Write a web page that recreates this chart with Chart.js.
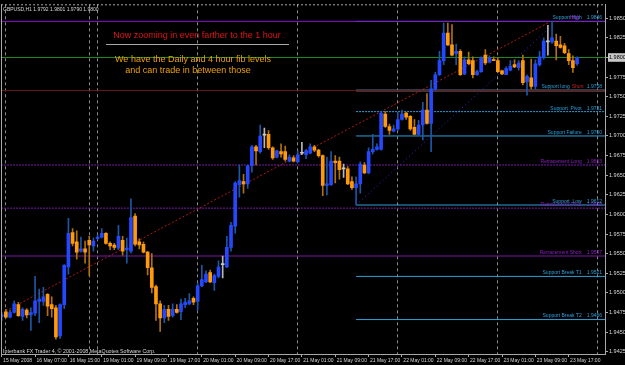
<!DOCTYPE html>
<html>
<head>
<meta charset="utf-8">
<title>GBPUSD,H1</title>
<script src="https://cdn.jsdelivr.net/npm/chart.js@4/dist/chart.umd.min.js"></script>
<style>
	html, body { margin: 0; padding: 0; background: #000; }
	canvas { display: block; }
</style>
</head>
<body>
<canvas id="grafico" width="625" height="365"></canvas>
<script>
	let simbolo = 'GBPUSD,H1';

	// etiquetas del eje de tiempo (una cada 8 barras) y separadores de dia
	let etiquetasHora = ['15 May 2008', '16 May 07:00', '16 May 15:00', '19 May 01:00', '19 May 09:00', '19 May 17:00',
		'20 May 01:00', '20 May 09:00', '20 May 17:00', '21 May 01:00', '21 May 09:00', '21 May 17:00',
		'22 May 01:00', '22 May 09:00', '22 May 17:00', '23 May 01:00', '23 May 09:00', '23 May 17:00'];
	let barrasEtiqueta = [0, 8, 16, 24, 32, 40, 48, 56, 64, 72, 80, 88, 96, 104, 112, 120, 128, 136];
	let separadores = [1, 21, 23, 47, 71, 95, 119, 143];

	let precios = [1.9425, 1.9450, 1.9475, 1.9500, 1.9525, 1.9550, 1.9575, 1.9600, 1.9625, 1.9650,
		1.9675, 1.9700, 1.9725, 1.9750, 1.9775, 1.9800, 1.9825, 1.9850];

	let aperturas = [1.9470, 1.9476, 1.9469, 1.9475, 1.9485, 1.9470, 1.9478, 1.9472, 1.9474, 1.9489,
		1.9489, 1.9498, 1.9485, 1.9481, 1.9445, 1.9485, 1.9533, 1.9577, 1.9565, 1.9553,
		1.9556, 1.9567, 1.9560, 1.9569, 1.9571, 1.9576, 1.9563, 1.9561, 1.9557, 1.9567,
		1.9555, 1.9553, 1.9598, 1.9565, 1.9562, 1.9552, 1.9532, 1.9508, 1.9486, 1.9468,
		1.9479, 1.9471, 1.9479, 1.9476, 1.9485, 1.9486, 1.9493, 1.9489, 1.9509, 1.9514,
		1.9526, 1.9513, 1.9521, 1.9536, 1.9533, 1.9558, 1.9585, 1.9638, 1.9642, 1.9639,
		1.9662, 1.9686, 1.9680, 1.9701, 1.9702, 1.9685, 1.9673, 1.9680, 1.9680, 1.9668,
		1.9672, 1.9667, 1.9678, 1.9676, 1.9678, 1.9686, 1.9682, 1.9675, 1.9637, 1.9638,
		1.9668, 1.9668, 1.9658, 1.9658, 1.9642, 1.9634, 1.9639, 1.9663, 1.9653, 1.9680,
		1.9683, 1.9683, 1.9728, 1.9712, 1.9706, 1.9709, 1.9721, 1.9729, 1.9725, 1.9711,
		1.9702, 1.9714, 1.9733, 1.9716, 1.9760, 1.9778, 1.9796, 1.9831, 1.9816, 1.9805,
		1.9808, 1.9779, 1.9797, 1.9796, 1.9778, 1.9782, 1.9803, 1.9794, 1.9797, 1.9796,
		1.9783, 1.9778, 1.9784, 1.9791, 1.9787, 1.9796, 1.9769, 1.9774, 1.9763, 1.9791,
		1.9800, 1.9820, 1.9820, 1.9821, 1.9816, 1.9815, 1.9805, 1.9796, 1.9792];

	let maximos = [1.9475, 1.9479, 1.9478, 1.9490, 1.9488, 1.9481, 1.9480, 1.9481, 1.9521, 1.9505,
		1.9507, 1.9499, 1.9495, 1.9484, 1.9486, 1.9536, 1.9595, 1.9582, 1.9579, 1.9571,
		1.9566, 1.9572, 1.9570, 1.9574, 1.9582, 1.9577, 1.9565, 1.9563, 1.9586, 1.9572,
		1.9570, 1.9620, 1.9601, 1.9569, 1.9565, 1.9553, 1.9550, 1.9510, 1.9490, 1.9484,
		1.9484, 1.9486, 1.9485, 1.9492, 1.9493, 1.9499, 1.9495, 1.9512, 1.9535, 1.9528,
		1.9529, 1.9524, 1.9541, 1.9547, 1.9572, 1.9590, 1.9642, 1.9663, 1.9651, 1.9663,
		1.9688, 1.9688, 1.9714, 1.9710, 1.9707, 1.9686, 1.9682, 1.9690, 1.9687, 1.9676,
		1.9675, 1.9681, 1.9692, 1.9683, 1.9690, 1.9688, 1.9683, 1.9676, 1.9673, 1.9680,
		1.9675, 1.9673, 1.9664, 1.9661, 1.9648, 1.9648, 1.9667, 1.9666, 1.9685, 1.9702,
		1.9690, 1.9731, 1.9731, 1.9715, 1.9714, 1.9730, 1.9733, 1.9730, 1.9726, 1.9721,
		1.9720, 1.9743, 1.9754, 1.9771, 1.9781, 1.9808, 1.9844, 1.9844, 1.9842, 1.9817,
		1.9810, 1.9801, 1.9807, 1.9801, 1.9784, 1.9801, 1.9810, 1.9802, 1.9801, 1.9800,
		1.9784, 1.9788, 1.9796, 1.9797, 1.9796, 1.9803, 1.9778, 1.9798, 1.9797, 1.9808,
		1.9825, 1.9841, 1.9846, 1.9830, 1.9827, 1.9818, 1.9810, 1.9802, 1.9801];

	let minimos = [1.9465, 1.9468, 1.9468, 1.9474, 1.9470, 1.9465, 1.9468, 1.9452, 1.9471, 1.9462,
		1.9484, 1.9471, 1.9469, 1.9441, 1.9442, 1.9480, 1.9524, 1.9560, 1.9543, 1.9552,
		1.9538, 1.9522, 1.9553, 1.9568, 1.9570, 1.9562, 1.9555, 1.9555, 1.9555, 1.9548,
		1.9538, 1.9551, 1.9560, 1.9556, 1.9551, 1.9523, 1.9500, 1.9465, 1.9451, 1.9462,
		1.9465, 1.9469, 1.9474, 1.9466, 1.9481, 1.9485, 1.9485, 1.9478, 1.9508, 1.9513,
		1.9513, 1.9503, 1.9519, 1.9519, 1.9532, 1.9553, 1.9576, 1.9622, 1.9627, 1.9633,
		1.9654, 1.9663, 1.9678, 1.9685, 1.9683, 1.9670, 1.9672, 1.9673, 1.9668, 1.9667,
		1.9667, 1.9666, 1.9676, 1.9671, 1.9677, 1.9680, 1.9673, 1.9624, 1.9625, 1.9637,
		1.9640, 1.9645, 1.9647, 1.9638, 1.9632, 1.9612, 1.9627, 1.9652, 1.9652, 1.9677,
		1.9682, 1.9682, 1.9711, 1.9702, 1.9705, 1.9707, 1.9720, 1.9721, 1.9707, 1.9702,
		1.9701, 1.9695, 1.9715, 1.9680, 1.9758, 1.9777, 1.9791, 1.9815, 1.9802, 1.9791,
		1.9777, 1.9778, 1.9791, 1.9774, 1.9777, 1.9781, 1.9791, 1.9793, 1.9796, 1.9781,
		1.9778, 1.9778, 1.9783, 1.9787, 1.9784, 1.9765, 1.9752, 1.9760, 1.9760, 1.9789,
		1.9798, 1.9803, 1.9818, 1.9797, 1.9812, 1.9805, 1.9791, 1.9781, 1.9790];

	let cierres = [1.9472, 1.9469, 1.9475, 1.9486, 1.9471, 1.9479, 1.9472, 1.9475, 1.9490, 1.9492,
		1.9495, 1.9483, 1.9480, 1.9444, 1.9485, 1.9535, 1.9576, 1.9563, 1.9552, 1.9556,
		1.9552, 1.9561, 1.9566, 1.9571, 1.9576, 1.9563, 1.9560, 1.9558, 1.9572, 1.9553,
		1.9557, 1.9596, 1.9562, 1.9561, 1.9552, 1.9532, 1.9507, 1.9486, 1.9468, 1.9479,
		1.9470, 1.9479, 1.9475, 1.9486, 1.9488, 1.9490, 1.9488, 1.9509, 1.9517, 1.9524,
		1.9514, 1.9522, 1.9533, 1.9536, 1.9558, 1.9586, 1.9640, 1.9643, 1.9639, 1.9662,
		1.9686, 1.9681, 1.9700, 1.9701, 1.9685, 1.9672, 1.9681, 1.9677, 1.9670, 1.9673,
		1.9668, 1.9676, 1.9678, 1.9681, 1.9686, 1.9682, 1.9675, 1.9637, 1.9639, 1.9668,
		1.9666, 1.9657, 1.9658, 1.9639, 1.9634, 1.9639, 1.9664, 1.9653, 1.9680, 1.9683,
		1.9686, 1.9729, 1.9712, 1.9707, 1.9709, 1.9721, 1.9728, 1.9724, 1.9709, 1.9702,
		1.9714, 1.9733, 1.9716, 1.9760, 1.9778, 1.9796, 1.9831, 1.9816, 1.9803, 1.9808,
		1.9778, 1.9797, 1.9792, 1.9778, 1.9782, 1.9800, 1.9793, 1.9800, 1.9796, 1.9782,
		1.9779, 1.9786, 1.9789, 1.9788, 1.9793, 1.9768, 1.9776, 1.9763, 1.9792, 1.9801,
		1.9821, 1.9820, 1.9825, 1.9815, 1.9813, 1.9806, 1.9796, 1.9787, 1.9800];

	// niveles fib (soportes desde la barra 85, retrocesos en todo el ancho)
	let soportesNombre = ['Support High', 'Support long', 'Support  Pivot', 'Support Failure', 'Support  Low', 'Support Break T1', 'Support Break T2'];
	let soportesPrecio = [1.9846, 1.9758, 1.9731, 1.9700, 1.9612, 1.9521, 1.9466];
	let soportesDesde = 85;
	let retrocesosNombre = ['Retracement Long', 'Retracement Pivot', 'Retracement Short'];
	let retrocesosPrecio = [1.9663, 1.9608, 1.9547];
	let diarioNombre = ['High', 'Short'];
	let diarioPrecio = [1.9846, 1.9758];
	let precioBid = 1.9800;

	// lineas de tendencia: [barra, precio]
	let tendenciaRoja = [[1, 1.9477], [131, 1.9844]];
	let tendenciaAzul = [[85, 1.9612], [131, 1.9836]];

	let xMin = -0.17, xMax = 144.7;
	let fuente = '"Liberation Sans", Arial, sans-serif';

	let colorCuerpo = {up: '#2448ff', down: '#ff9a0c', doji: '#c8c8c8'};
	let colorMecha = {up: '#1d56a6', down: '#b0700e', doji: '#b8b8b8'};
	let colorSoporte = '#2e9fd8';
	let colorRetroceso = '#7a1aa6';

	function tipo(i){
		if (cierres[i] > aperturas[i]) return 'up';
		if (cierres[i] < aperturas[i]) return 'down';
		return 'doji';
	}

	function linea(x0, y0, x1, y1, color, dash, ancho){
		return {
			type: 'line',
			xAxisID: 'x',
			yAxisID: 'y',
			data: [{x: x0, y: y0}, {x: x1, y: y1}],
			borderColor: color,
			borderWidth: ancho || 1,
			borderDash: dash || [],
			pointRadius: 0,
			fill: false,
			order: 5
		};
	}

	let datasets = [];

	datasets.push({
		label: 'mechas',
		xAxisID: 'x',
		yAxisID: 'y',
		data: maximos.map((h, i) => ({x: i, y: [minimos[i], h]})),
		backgroundColor: maximos.map((h, i) => colorMecha[tipo(i)]),
		barThickness: 1,
		grouped: false,
		order: 2
	});
	datasets.push({
		label: 'cuerpos',
		xAxisID: 'x',
		yAxisID: 'y',
		data: aperturas.map((o, i) => ({x: i, y: [o, cierres[i]]})),
		backgroundColor: aperturas.map((o, i) => colorCuerpo[tipo(i)]),
		barThickness: 3,
		minBarLength: 1,
		grouped: false,
		order: 1
	});

	datasets.push(linea(xMin, diarioPrecio[0], xMax, diarioPrecio[0], '#8a12c4'));
	datasets.push(linea(xMin, diarioPrecio[1], xMax, diarioPrecio[1], '#6e1616'));
	datasets.push(linea(xMin, precioBid, xMax, precioBid, '#1f8c1f'));
	datasets.push(linea(xMin, retrocesosPrecio[0], xMax, retrocesosPrecio[0], colorRetroceso, [2, 1]));
	datasets.push(linea(xMin, retrocesosPrecio[1], xMax, retrocesosPrecio[1], colorRetroceso, [2, 1]));
	datasets.push(linea(xMin, retrocesosPrecio[2], xMax, retrocesosPrecio[2], colorRetroceso));

	soportesPrecio.forEach(function(p, i){
		if (i == 1) {
			datasets.push(linea(soportesDesde, p, xMax, p, '#5f7486', [], 2));
		} else if (i == 2) {
			datasets.push(linea(soportesDesde, p, xMax, p, colorSoporte, [2, 1]));
		} else {
			datasets.push(linea(soportesDesde, p, xMax, p, colorSoporte));
		}
	});

	datasets.push(linea(tendenciaRoja[0][0], tendenciaRoja[0][1], tendenciaRoja[1][0], tendenciaRoja[1][1], '#b01a1a', [2, 2]));
	datasets.push(linea(tendenciaAzul[0][0], tendenciaAzul[0][1], tendenciaAzul[1][0], tendenciaAzul[1][1], '#2a2ad8', [1, 3]));

	let textos = {
		id: 'textos',
		afterDatasetsDraw(chart){
			let ctx = chart.ctx;
			let area = chart.chartArea;
			let y = chart.scales.y;
			let n = cierres.length - 1;

			ctx.save();

			// marco izquierdo y superior
			ctx.strokeStyle = '#a8a8a8';
			ctx.lineWidth = 1;
			ctx.beginPath();
			ctx.moveTo(area.left + 0.5, area.top);
			ctx.lineTo(area.left + 0.5, area.bottom);
			ctx.stroke();
			ctx.setLineDash([2, 2]);
			ctx.beginPath();
			ctx.moveTo(area.left, area.top + 0.5);
			ctx.lineTo(area.right, area.top + 0.5);
			ctx.stroke();
			ctx.setLineDash([]);

			// etiquetas de niveles
			ctx.font = '5px ' + fuente;
			ctx.textBaseline = 'bottom';
			ctx.textAlign = 'right';
			let derecha = area.right - 3;

			function etiqueta(nombre, precio, color){
				let py = y.getPixelForValue(precio) - 1;
				let valor = precio.toFixed(4);
				ctx.fillStyle = color;
				ctx.fillText(valor, derecha, py);
				ctx.fillText(nombre, derecha - ctx.measureText(valor).width - 5, py);
			}

			retrocesosNombre.forEach((t, i) => etiqueta(t, retrocesosPrecio[i], '#8a22c0'));
			soportesNombre.forEach(function(t, i){
				if (i == 1) {
					let py = y.getPixelForValue(soportesPrecio[i]) - 1;
					let valor = soportesPrecio[i].toFixed(4);
					let wv = ctx.measureText(valor).width;
					ctx.fillStyle = colorSoporte;
					ctx.fillText(valor, derecha, py);
					ctx.fillStyle = '#c02020';
					ctx.fillText(diarioNombre[1], derecha - wv - 3, py);
					let ws = ctx.measureText(diarioNombre[1]).width;
					ctx.fillStyle = colorSoporte;
					ctx.fillText(t, derecha - wv - ws - 5, py);
				} else {
					etiqueta(t, soportesPrecio[i], colorSoporte);
				}
			});
			ctx.fillStyle = '#9a20d0';
			ctx.fillText(diarioNombre[0], derecha - 22, y.getPixelForValue(diarioPrecio[0]) - 1);

			// cabecera y pie
			ctx.textAlign = 'left';
			ctx.textBaseline = 'top';
			ctx.fillStyle = '#d8d8d8';
			ctx.font = '5px ' + fuente;
			ctx.fillText(simbolo + ' ' + aperturas[n].toFixed(4) + ' ' + maximos[n].toFixed(4) + ' ' +
				minimos[n].toFixed(4) + ' ' + cierres[n].toFixed(4), area.left + 2, area.top + 3);
			ctx.textBaseline = 'bottom';
			ctx.font = '5.3px ' + fuente;
			ctx.fillText('Interbank FX Trader 4, \u00a9 2001-2008 MetaQuotes Software Corp.', area.left + 2, area.bottom);

			// notas del grafico
			ctx.textAlign = 'center';
			ctx.textBaseline = 'alphabetic';
			ctx.font = '9px "Liberation Sans", Arial, sans-serif';
			ctx.fillStyle = '#e01414';
			ctx.fillText('Now zooming in even farther to the 1 hour', 197, 38);
			ctx.strokeStyle = '#a8a8a8';
			ctx.beginPath();
			ctx.moveTo(106, 44.5);
			ctx.lineTo(289, 44.5);
			ctx.stroke();
			ctx.fillStyle = '#eca000';
			ctx.fillText('We have the Daily and 4 hour fib levels', 193, 62);
			ctx.fillText('and can trade in between those', 188, 73);

			ctx.restore();
		}
	};

	let ctx = document.getElementById('grafico').getContext('2d');

	new Chart(ctx, {
		type: 'bar',
		data: {datasets: datasets},
		options: {
			responsive: false,
			animation: false,
			events: [],
			layout: {padding: {left: 1, top: 1, right: 0, bottom: 0}},
			plugins: {
				legend: {display: false},
				tooltip: {enabled: false}
			},
			scales: {
				x: {
					type: 'linear',
					position: 'bottom',
					min: xMin,
					max: xMax,
					offset: false,
					afterBuildTicks(s){
						s.ticks = barrasEtiqueta.map(v => ({value: v}));
					},
					afterFit(s){
						s.height = 11;
					},
					ticks: {
						autoSkip: false,
						maxRotation: 0,
						minRotation: 0,
						align: 'start',
						padding: 1,
						color: '#d8d8d8',
						font: {family: fuente, size: 5},
						callback: (v, i) => ' ' + etiquetasHora[i]
					},
					grid: {
						offset: false,
						drawOnChartArea: false,
						tickLength: 3,
						color: '#a8a8a8'
					},
					border: {color: '#a8a8a8'}
				},
				sep: {
					type: 'linear',
					position: 'bottom',
					min: xMin,
					max: xMax,
					offset: false,
					afterBuildTicks(s){
						s.ticks = separadores.map(v => ({value: v}));
					},
					afterFit(s){
						s.height = 0;
					},
					ticks: {display: false},
					grid: {
						offset: false,
						drawTicks: false,
						color: '#8a8a8a',
						borderDash: [3, 3]
					},
					border: {display: false, dash: [3, 3]}
				},
				y: {
					type: 'linear',
					position: 'right',
					min: 1.94221,
					max: 1.98678,
					afterBuildTicks(s){
						s.ticks = precios.map(v => ({value: v}));
					},
					afterFit(s){
						s.width = 20;
					},
					ticks: {
						crossAlign: 'near',
						padding: 1,
						font: {family: fuente, size: 5.5},
						color: c => Math.abs(c.tick.value - precioBid) < 1e-6 ? '#000' : '#d8d8d8',
						showLabelBackdrop: c => Math.abs(c.tick.value - precioBid) < 1e-6,
						backdropColor: '#c8c8c8',
						backdropPadding: {top: 1, bottom: 1, left: 1, right: 1},
						callback: v => v.toFixed(4)
					},
					grid: {
						drawOnChartArea: false,
						tickLength: 3,
						color: '#a8a8a8'
					},
					border: {color: '#a8a8a8'}
				}
			}
		},
		plugins: [textos]
	});
</script>
</body>
</html>
